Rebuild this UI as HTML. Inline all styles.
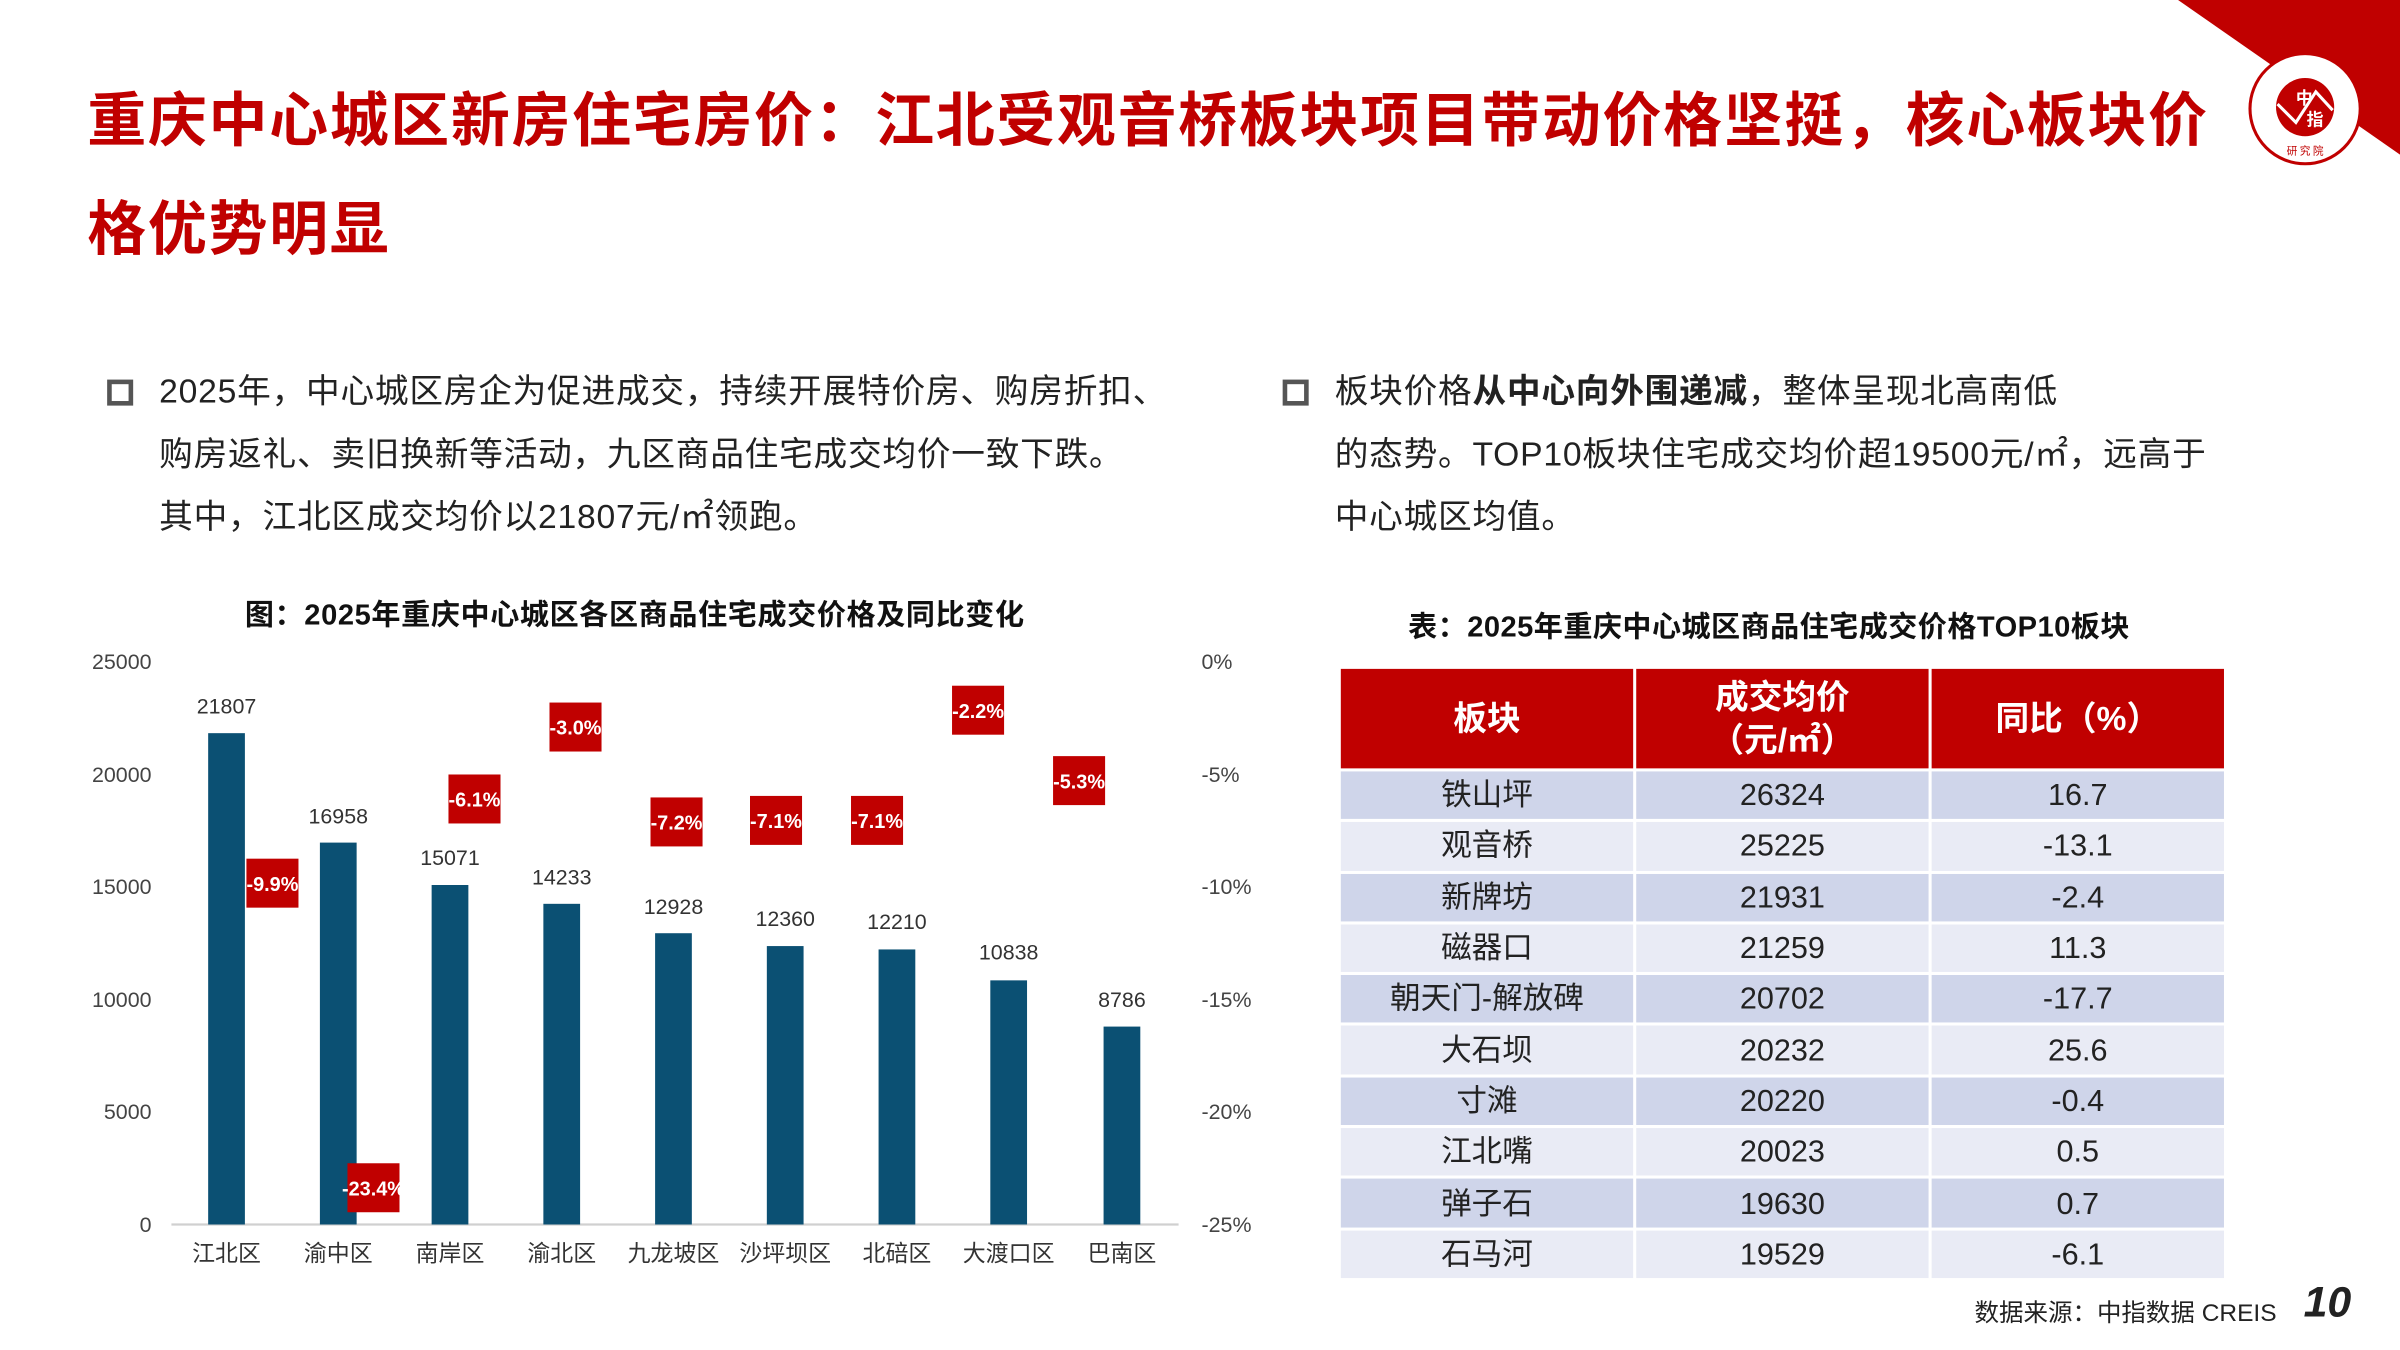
<!DOCTYPE html>
<html><head><meta charset="utf-8">
<style>
html,body{margin:0;padding:0;background:#fff;}
body{width:2400px;height:1350px;overflow:hidden;position:relative;}
#w{position:absolute;left:0;top:0;width:1568px;height:882px;transform:scale(1.530612);transform-origin:0 0;font-family:"Liberation Sans","Noto Sans CJK SC",sans-serif;}
.a{position:absolute;white-space:nowrap;}
.title{color:#c00000;font-weight:bold;font-size:38.5px;left:57px;line-height:70px;letter-spacing:1.1px;}
.p{font-size:22px;color:#222;line-height:41px;letter-spacing:0.5px;}
.bx{position:absolute;width:11px;height:11px;border:3px solid #555;}
table{border-collapse:separate;border-spacing:2px;position:absolute;left:874px;top:435px;}
td{width:191px;text-align:center;font-size:20px;color:#222;height:29.3px;padding:2px 0 0 0;line-height:29px;}
th{background:#c00000;color:#fff;font-size:22px;font-weight:bold;height:65px;padding:0;line-height:28px;}
tr.o td{background:#cfd5ea;}
tr.e td{background:#e9ebf5;}
</style></head><body><div id="w">
<svg class="a" style="left:0;top:0" width="1568" height="882">
<polygon points="1423,0 1568,0 1568,101" fill="#c00000"/>
<circle cx="1506" cy="71" r="36" fill="#fff" stroke="#c00000" stroke-width="2"/>
<circle cx="1506" cy="70" r="19" fill="#c00000"/>
<polyline points="1488,68 1500,80 1513,60 1524,72" fill="none" stroke="#fff" stroke-width="2"/>
<text x="1500" y="68" font-size="11" fill="#fff" font-weight="bold" font-family="Noto Sans CJK SC">中</text>
<text x="1507" y="82" font-size="11" fill="#fff" font-weight="bold" font-family="Noto Sans CJK SC">指</text>
<text x="1506" y="101" font-size="7" fill="#c00000" text-anchor="middle" font-family="Noto Sans CJK SC">研 究 院</text>
</svg>
<div class="a title" style="top:45px">重庆中心城区新房住宅房价：江北受观音桥板块项目带动价格坚挺，核心板块价</div>
<div class="a title" style="top:116px">格优势明显</div>

<div class="bx" style="left:70px;top:248px"></div>
<div class="a p" style="left:104px;top:235px">2025年，中心城区房企为促进成交，持续开展特价房、购房折扣、<br>购房返礼、卖旧换新等活动，九区商品住宅成交均价一致下跌。<br>其中，江北区成交均价以21807元/㎡领跑。</div>
<div class="bx" style="left:838px;top:248px"></div>
<div class="a p" style="left:872px;top:235px">板块价格<b>从中心向外围递减</b>，整体呈现北高南低<br>的态势。TOP10板块住宅成交均价超19500元/㎡，远高于<br>中心城区均值。</div>

<div class="a" style="left:160px;top:387px;font-size:19px;font-weight:bold;color:#111;letter-spacing:0.4px">图：2025年重庆中心城区各区商品住宅成交价格及同比变化</div>
<div class="a" style="left:920px;top:395px;font-size:19px;font-weight:bold;color:#111;letter-spacing:0.3px">表：2025年重庆中心城区商品住宅成交价格TOP10板块</div>

<svg class="a" style="left:0;top:0" width="1568" height="882" font-family="Liberation Sans, Noto Sans CJK SC, sans-serif">
<g font-size="14" fill="#444" text-anchor="end">
<text x="99" y="437">25000</text><text x="99" y="511">20000</text><text x="99" y="584">15000</text><text x="99" y="658">10000</text><text x="99" y="731">5000</text><text x="99" y="805">0</text>
</g>
<g font-size="14" fill="#444">
<text x="785" y="437">0%</text><text x="785" y="511">-5%</text><text x="785" y="584">-10%</text><text x="785" y="658">-15%</text><text x="785" y="731">-20%</text><text x="785" y="805">-25%</text>
</g>
<line x1="112" y1="800" x2="770" y2="800" stroke="#d0d0d0" stroke-width="1.5"/>
<g fill="#0b5073">
<rect x="136" y="479" width="24" height="321"/>
<rect x="209" y="550.5" width="24" height="249.5"/>
<rect x="282" y="578.2" width="24" height="221.8"/>
<rect x="355" y="590.5" width="24" height="209.5"/>
<rect x="428" y="609.7" width="24" height="190.3"/>
<rect x="501" y="618.1" width="24" height="181.9"/>
<rect x="574" y="620.3" width="24" height="179.7"/>
<rect x="647" y="640.5" width="24" height="159.5"/>
<rect x="721" y="670.7" width="24" height="129.3"/>
</g>
<g font-size="14" fill="#333" text-anchor="middle">
<text x="148" y="466">21807</text><text x="221" y="538">16958</text><text x="294" y="565">15071</text><text x="367" y="578">14233</text><text x="440" y="597">12928</text><text x="513" y="605">12360</text><text x="586" y="607">12210</text><text x="659" y="627">10838</text><text x="733" y="658">8786</text>
</g>
<g fill="#c00000">
<rect x="161" y="561" width="34" height="32"/>
<rect x="227" y="760" width="34" height="32"/>
<rect x="293" y="506" width="34" height="32"/>
<rect x="359" y="459" width="34" height="32"/>
<rect x="425" y="521" width="34" height="32"/>
<rect x="490" y="520" width="34" height="32"/>
<rect x="556" y="520" width="34" height="32"/>
<rect x="622" y="448" width="34" height="32"/>
<rect x="688" y="494" width="34" height="32"/>
</g>
<g font-size="13" fill="#fff" font-weight="bold" text-anchor="middle">
<text x="178" y="582">-9.9%</text><text x="244" y="781">-23.4%</text><text x="310" y="527">-6.1%</text><text x="376" y="480">-3.0%</text><text x="442" y="542">-7.2%</text><text x="507" y="541">-7.1%</text><text x="573" y="541">-7.1%</text><text x="639" y="469">-2.2%</text><text x="705" y="515">-5.3%</text>
</g>
<g font-size="15" fill="#333" text-anchor="middle">
<text x="148" y="824">江北区</text><text x="221" y="824">渝中区</text><text x="294" y="824">南岸区</text><text x="367" y="824">渝北区</text><text x="440" y="824">九龙坡区</text><text x="513" y="824">沙坪坝区</text><text x="586" y="824">北碚区</text><text x="659" y="824">大渡口区</text><text x="733" y="824">巴南区</text>
</g>
</svg>

<table>
<tr><th>板块</th><th>成交均价<br>（元/㎡）</th><th>同比（%）</th></tr>
<tr class="o"><td>铁山坪</td><td>26324</td><td>16.7</td></tr>
<tr class="e"><td>观音桥</td><td>25225</td><td>-13.1</td></tr>
<tr class="o"><td>新牌坊</td><td>21931</td><td>-2.4</td></tr>
<tr class="e"><td>磁器口</td><td>21259</td><td>11.3</td></tr>
<tr class="o"><td>朝天门-解放碑</td><td>20702</td><td>-17.7</td></tr>
<tr class="e"><td>大石坝</td><td>20232</td><td>25.6</td></tr>
<tr class="o"><td>寸滩</td><td>20220</td><td>-0.4</td></tr>
<tr class="e"><td>江北嘴</td><td>20023</td><td>0.5</td></tr>
<tr class="o"><td>弹子石</td><td>19630</td><td>0.7</td></tr>
<tr class="e"><td>石马河</td><td>19529</td><td>-6.1</td></tr>
</table>

<div class="a" style="left:1290px;top:844px;font-size:16px;color:#222">数据来源：中指数据 CREIS</div>
<div class="a" style="left:1505px;top:835px;font-size:28px;font-weight:bold;font-style:italic;color:#222">10</div>
</div></body></html>
